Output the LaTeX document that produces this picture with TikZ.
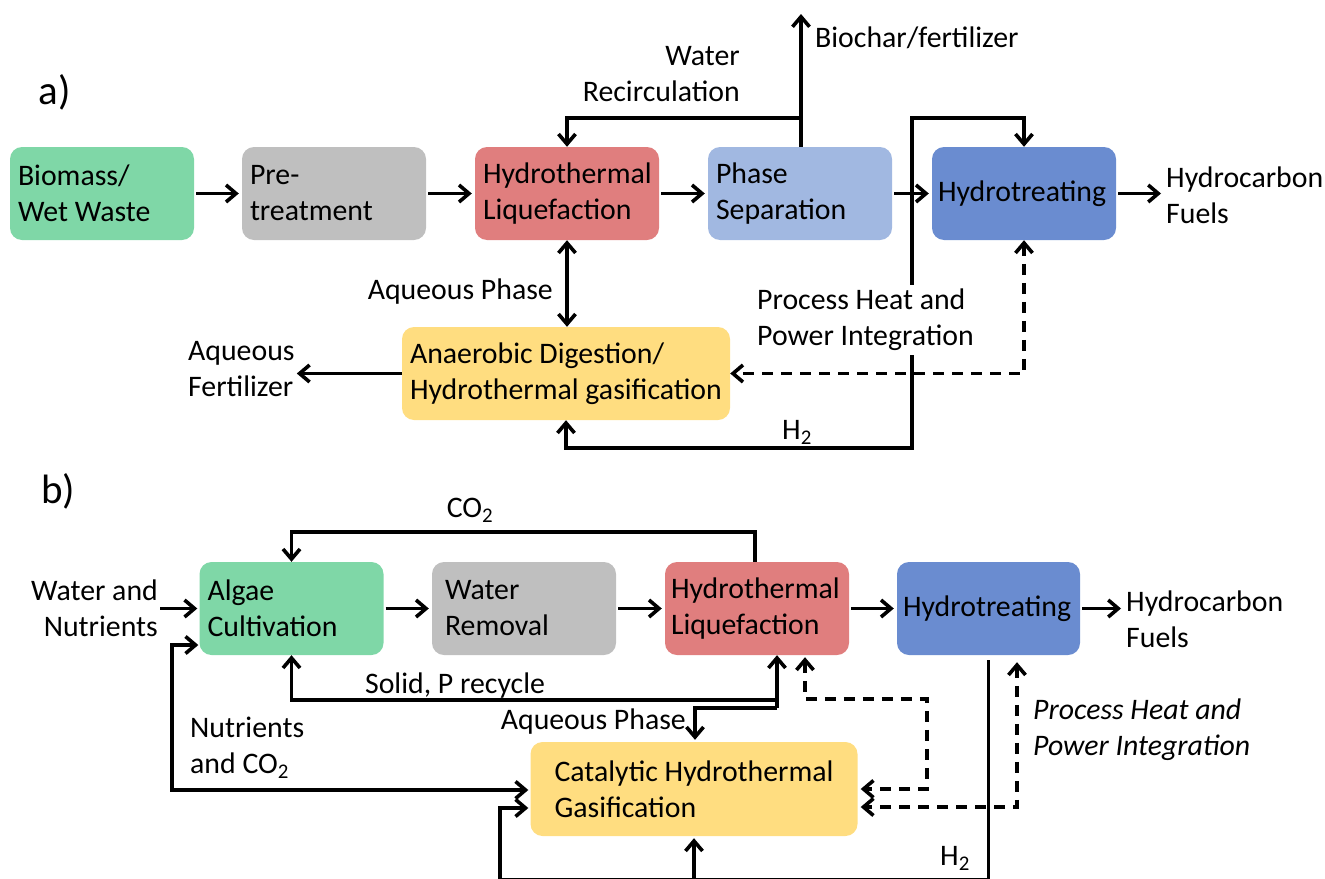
\documentclass[tikz,border=0pt]{standalone}
\usepackage{fontspec}
\setmainfont{Carlito}
\usetikzlibrary{arrows.meta,calc}
\definecolor{cgreen}{RGB}{127,215,167}
\definecolor{cgray}{RGB}{191,191,191}
\definecolor{cred}{RGB}{224,126,126}
\definecolor{clblue}{RGB}{161,184,225}
\definecolor{cblue}{RGB}{106,140,208}
\definecolor{cyellow}{RGB}{255,221,128}
\newcommand{\txtfont}{\fontsize{29.8}{36}\selectfont\hyphenpenalty=10000\exhyphenpenalty=10000}
\begin{document}
\begin{tikzpicture}[x=1pt,y=-1pt,
  >={Straight Barb[length=10pt,width=17pt]},
  every node/.style={font=\txtfont, inner sep=2pt},
  proc/.style={rounded corners=12pt, minimum height=93pt, inner xsep=8pt, inner ysep=0pt, text width=168pt, align=flush left},
  line/.style={line width=3.6pt},
  ar/.style={line, ->},
  ar2/.style={line, <->},
  dsh/.style={line, dash pattern=on 11pt off 8pt},
  flow/.style={ar, shorten <=2pt, shorten >=3pt},
  panel/.style={font=\fontsize{41}{48}\selectfont}]
\useasboundingbox (0,0) rectangle (1325,878);

% ---------- panel a ----------
\node[panel] (la) at (55,92) {a)};
\node[proc, fill=cgreen] (bio) at (102,193.5) {Biomass/\\Wet Waste};
\node[proc, fill=cgray] (pre) at (334,193.5) {Pre-\\treatment};
\node[proc, fill=cred] (htl) at (567,193.5) {Hydrothermal\\Liquefaction};
\node[proc, fill=clblue] (ps) at (800,193.5) {Phase\\Separation};
\node[proc, fill=cblue, inner xsep=6pt, text width=172pt] (ht) at (1024,193.5) {Hydrotreating};
\node[proc, fill=cyellow, inner xsep=8pt, text width=312pt] (ad) at (566,373.5) {Anaerobic Digestion/\\Hydrothermal gasification};

\node[anchor=east, align=right] (wrt) at (742,74) {Water\\Recirculation};
\node[anchor=west] (bct) at (813,38) {Biochar/fertilizer};
\node[anchor=west, align=left] (fuela) at (1164,195) {Hydrocarbon\\Fuels};
\node[anchor=east] (aqa) at (555,292) {Aqueous Phase};
\node[anchor=west, align=left] (ferta) at (186,369.5) {Aqueous\\Fertilizer};
\node (h2a) at (797,432) {H\textsubscript{2}};

\draw[flow] (bio) -- (pre);
\draw[flow] (pre) -- (htl);
\draw[flow] (htl) -- (ps);
\draw[flow] (ps) -- (ht);
\draw[flow] (ht.east) -- (ht.east -| fuela.west);

\coordinate (wrc) at (801,118);
\coordinate (bcc) at (801,14);
\draw[ar] (ps.north -| wrc) |- (htl.north |- wrc) -- (htl.north);
\draw[ar] (ps.north -| wrc) -- (bcc);

\coordinate (h2bot) at (912,448);
\coordinate (h2top) at (912,118);
\draw[ar2] (ad.south) |- (h2bot) -- (h2top) -| (ht.north);
\draw[dsh, <->] (ht.south) |- (ad.east);
\draw[ar2] (htl.south) -- (htl.south |- ad.north);
\draw[ar] (ad.west) -- (ad.west -| ferta.east);

\node[anchor=west, align=left, fill=white, inner xsep=0pt, inner ysep=4pt] (phpa) at (757,320) {Process Heat and\\Power Integration};

% ---------- panel b ----------
\node[panel] (lbb) at (58,491) {b)};
\node[proc, fill=cgreen] (alg) at (291.5,608.5) {Algae\\Cultivation};
\node[proc, fill=cgray, inner xsep=13pt, text width=158pt] (wrm) at (524,608.5) {Water\\Removal};
\node[proc, fill=cred, inner xsep=6pt, text width=172pt] (htlb) at (757,608.5) {Hydrothermal\\Liquefaction};
\node[proc, fill=cblue, inner xsep=6pt, text width=171pt] (htb) at (988.5,608.5) {Hydrotreating};
\node[fill=cyellow, rounded corners=12pt, minimum width=327pt, minimum height=94pt, inner sep=0pt, align=left] (cat) at (694,789) {Catalytic Hydrothermal\\Gasification};

\node[anchor=east, align=right] (wn) at (160,608.5) {Water and\\Nutrients};
\node (co2t) at (470,510) {CO\textsubscript{2}};
\node (spt) at (455,686) {Solid, P recycle};
\node[anchor=east] (aqb) at (688,722) {Aqueous Phase};
\node[anchor=west, align=left] (nct) at (188,747.5) {Nutrients\\and CO\textsubscript{2}};
\node[anchor=west, align=left, font=\txtfont\itshape] (phpb) at (1031,729.5) {Process Heat and\\Power Integration};
\node[anchor=west, align=left] (fuelb) at (1124,619) {Hydrocarbon\\Fuels};
\node (h2b) at (955,858) {H\textsubscript{2}};

\draw[ar, shorten >=2pt] (wn.east) -- (alg.west);
\draw[flow] (alg) -- (wrm);
\draw[flow] (wrm) -- (htlb);
\draw[flow] (htlb) -- (htb);
\draw[flow] (htb.east) -- (htb.east -| fuelb.west);

\coordinate (co2c) at (755,532);
\draw[ar] (htlb.north -| co2c) |- (alg.north |- co2c) -- (alg.north);

\coordinate (spc) at (777,700);
\coordinate (aqc) at (777,708);
\coordinate (aqd) at (695,708);
\draw[ar] (aqc) -- (htlb.south -| aqc);
\draw[ar] (spc) -| (alg.south);
\draw[ar, shorten >=2pt] (aqc) -- (aqd) -- (aqd |- cat.north);

\coordinate (d1a) at (805,699);
\coordinate (d1b) at (927,699);
\draw[dsh, <->, shorten >=3pt] ($(htlb.south -| d1a)+(0,2)$) -- (d1a) -- (d1b) |- (cat.east);
\coordinate (d2) at (1017,807);
\draw[dsh, <->, shorten >=3pt] ($(htb.south -| d2)+(0,7)$) -- (d2) -- (cat.east |- d2);

\coordinate (nlt) at (172,645);
\coordinate (nlb) at (172,790);
\draw[ar2, shorten >=2pt, shorten <=1pt] (alg.west |- nlt) -- (nlt) -- (nlb) -- (cat.west |- nlb);

\coordinate (hbr) at (988,880);
\coordinate (hbl) at (500,880);
\coordinate (hlt) at (500,808);
\draw[ar, shorten >=2pt] ($(htb.south)+(0,5)$) -- (htb.south |- hbr) -- (hbl) -- (hlt) -- (cat.west |- hlt);
\draw[ar, shorten >=2pt] (cat.south |- hbr) -- (cat.south);
\end{tikzpicture}
\end{document}
